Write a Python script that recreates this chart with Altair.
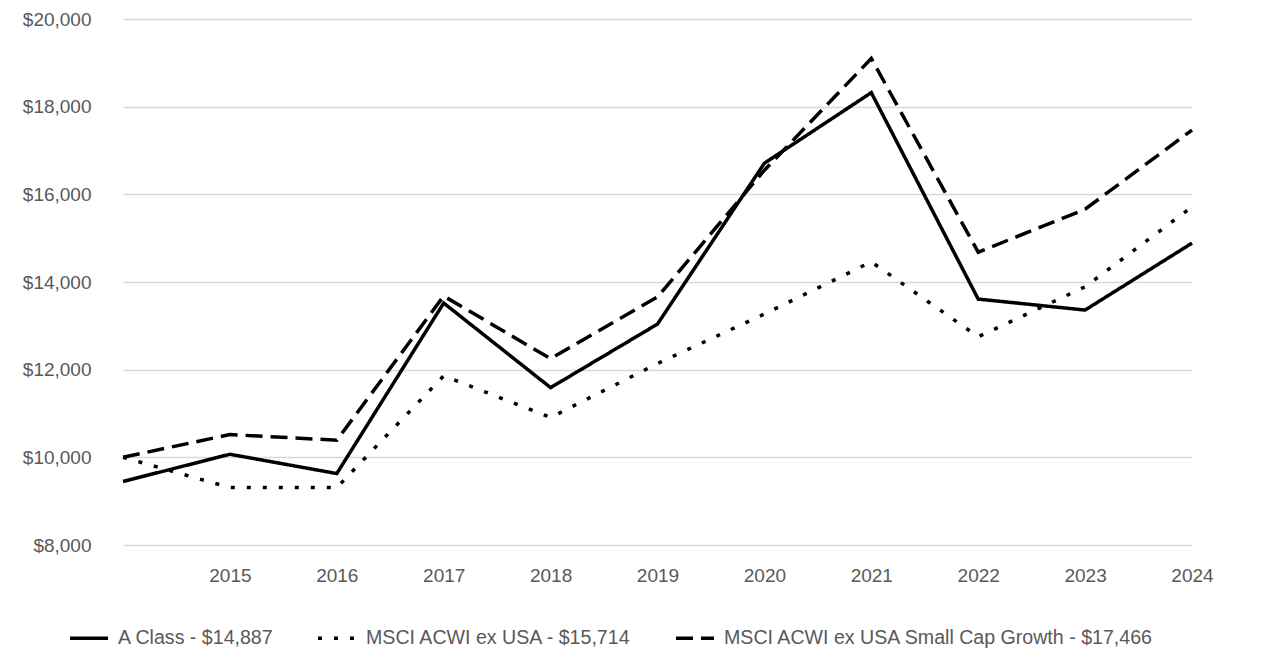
import altair as alt
import pandas as pd

years = [2014, 2015, 2016, 2017, 2018, 2019, 2020, 2021, 2022, 2023, 2024]
a_class = [9450, 10070, 9630, 13520, 11590, 13040, 16710, 18320, 13610, 13360, 14887]
msci_acwi = [10000, 9310, 9310, 11860, 10910, 12140, 13270, 14460, 12750, 13890, 15714]
msci_small = [10000, 10520, 10390, 13680, 12250, 13660, 16550, 19100, 14680, 15660, 17466]

series_names = [
    "A Class - $14,887",
    "MSCI ACWI ex USA - $15,714",
    "MSCI ACWI ex USA Small Cap Growth - $17,466",
]
series_values = [a_class, msci_acwi, msci_small]
dash_patterns = [[1, 0], [4, 12], [17, 8]]

x_ticks = [2015, 2016, 2017, 2018, 2019, 2020, 2021, 2022, 2023, 2024]
y_ticks = [8000, 10000, 12000, 14000, 16000, 18000, 20000]

rows = []
for name, vals in zip(series_names, series_values):
    for yr, v in zip(years, vals):
        rows.append({"year": yr, "value": v, "series": name})
df = pd.DataFrame(rows)

FONT = "Liberation Sans"
GREY = "#595959"

chart = (
    alt.Chart(df)
    .mark_line(color="black", strokeWidth=3.5, strokeCap="butt", strokeJoin="miter")
    .encode(
        x=alt.X(
            "year:Q",
            scale=alt.Scale(domain=[2014, 2024], nice=False, zero=False),
            axis=alt.Axis(
                values=x_ticks,
                format="d",
                title=None,
                grid=False,
                domain=False,
                ticks=False,
                tickSize=0,
                labelFont=FONT,
                labelFontSize=19,
                labelColor=GREY,
                labelPadding=21,
                labelOverlap=False,
                labelFlush=False,
                labelBound=False,
            ),
        ),
        y=alt.Y(
            "value:Q",
            scale=alt.Scale(domain=[8000, 20000], nice=False, zero=False),
            axis=alt.Axis(
                values=y_ticks,
                format="$,.0f",
                title=None,
                domain=False,
                ticks=False,
                tickSize=0,
                grid=True,
                gridColor="#d9d9d9",
                gridWidth=1.5,
                labelFont=FONT,
                labelFontSize=19,
                labelColor=GREY,
                labelPadding=32,
            ),
        ),
        strokeDash=alt.StrokeDash(
            "series:N",
            scale=alt.Scale(domain=series_names, range=dash_patterns),
            sort=series_names,
            legend=alt.Legend(
                title=None,
                orient="none",
                legendX=-55,
                legendY=598,
                direction="horizontal",
                symbolType="stroke",
                symbolSize=1450,
                symbolStrokeWidth=3.5,
                symbolStrokeColor="black",
                labelFont=FONT,
                labelFontSize=19.6,
                labelColor=GREY,
                labelLimit=700,
                labelOffset=8,
                columnPadding=36,
                padding=0,
            ),
        ),
        detail="series:N",
    )
    .properties(
        width=1069,
        height=526,
        padding={"left": 115, "top": 11, "right": 86, "bottom": 120},
        autosize="none",
        background="white",
    )
    .configure_view(strokeWidth=0, stroke="transparent")
)

chart.save("out.html", embed_options={"renderer": "svg", "actions": False})
